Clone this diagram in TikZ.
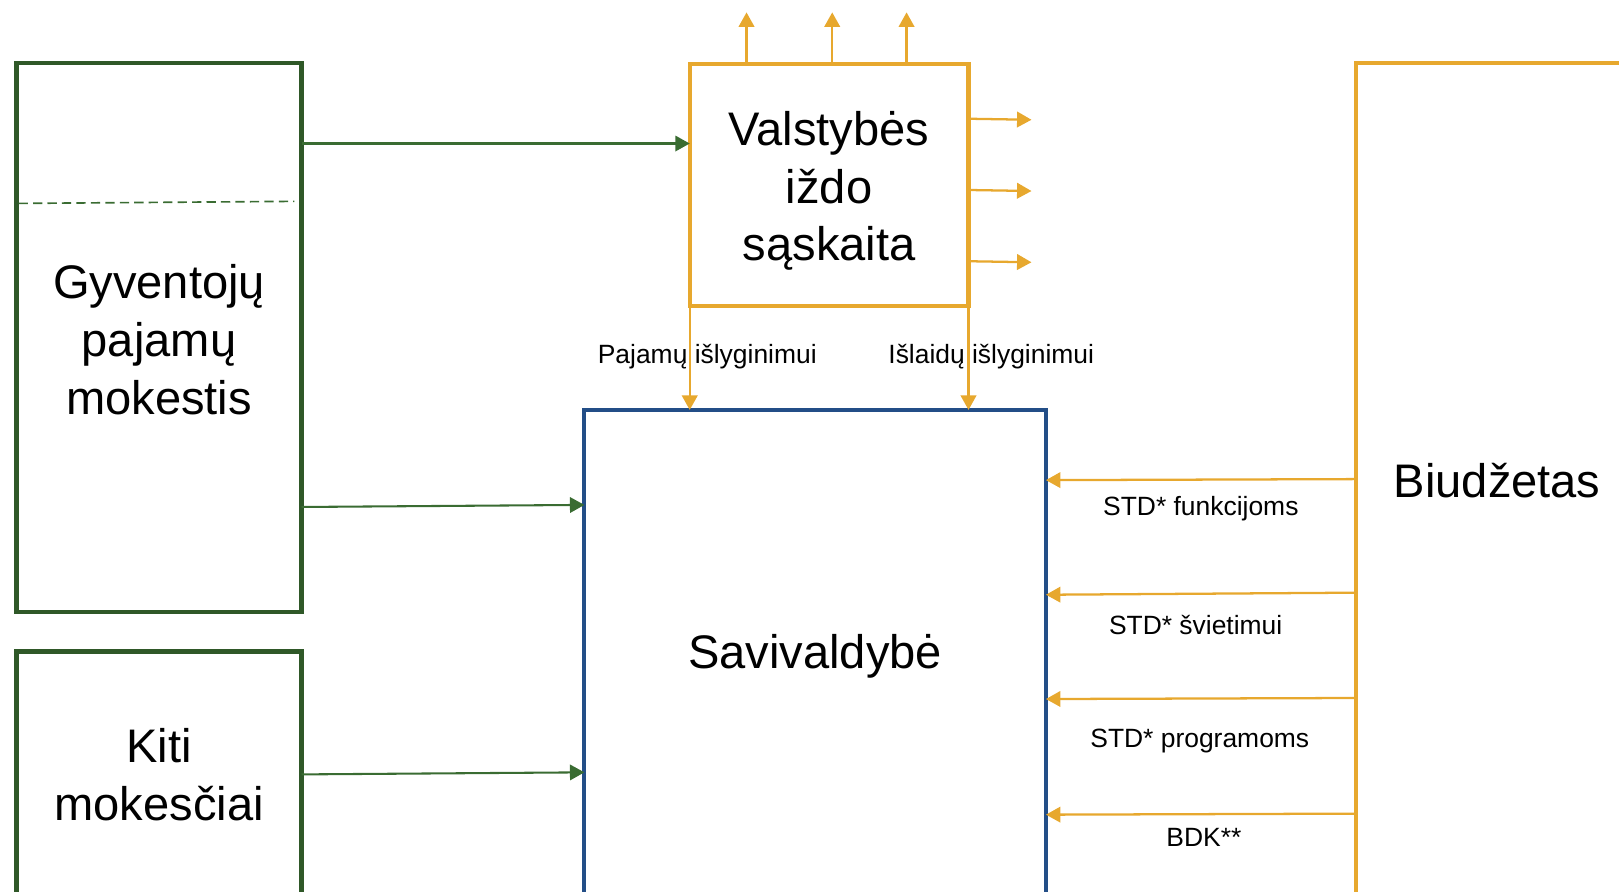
\documentclass[tikz,border=0pt]{standalone}
\usepackage{fontspec}
\setmainfont{Liberation Sans}
\usetikzlibrary{arrows.meta}
\definecolor{gbox}{RGB}{47,88,40}
\definecolor{garr}{RGB}{58,108,50}
\definecolor{orng}{RGB}{231,168,46}
\definecolor{blu}{RGB}{35,78,135}
\begin{document}
\begin{tikzpicture}[x=0.5pt,y=-0.5pt,
  bigtxt/.style={font=\fontsize{22.8}{28}\selectfont, align=center},
  smalltxt/.style={font=\fontsize{12.8}{15}\selectfont, inner sep=0pt},
  box/.style={draw, line width=2pt, inner sep=0pt, outer sep=0pt},
  garrow/.style={draw=garr, line width=1pt, -{Triangle[length=7pt,width=7.5pt]}},
  oarrow/.style={draw=orng, line width=1.1pt, -{Triangle[length=7pt,width=7.5pt]}},
]
\useasboundingbox (0,0) rectangle (1568,863);
\clip (0,0) rectangle (1568,863);

% boxes
\node[box, draw=gbox, minimum width=138pt, minimum height=266pt,
  label={[bigtxt,yshift=-1pt]center:Gyventojų\\pajamų\\mokestis}] (gyv) at (154,327) {};
\node[box, draw=gbox, bigtxt, minimum width=138pt, minimum height=119.5pt] (kiti) at (154,750.5) {Kiti\\mokesčiai};
\node[box, draw=orng, minimum width=135pt, minimum height=117pt,
  label={[bigtxt,yshift=-3pt]center:Valstybės\\iždo\\sąskaita}] (val) at (803,179) {};
\node[box, draw=blu, minimum width=223.5pt, minimum height=235pt,
  label={[bigtxt,yshift=-2pt]center:Savivaldybė}] (sav) at (789.5,632) {};
\node[box, draw=orng, bigtxt, minimum width=137pt, minimum height=404pt] (biud) at (1450,465) {Biudžetas};

% dashed divider
\coordinate (dA) at (gyv.west |- 0,197);
\coordinate (dB) at (gyv.east |- 0,195);
\draw[garr, line width=0.8pt, dash pattern=on 4.5pt off 2.5pt] ([xshift=1pt]dA) -- ([xshift=-3.5pt]dB);

% green arrows
\draw[garrow] (gyv.east |- 0,139) -- (val.west |- 0,139);
\draw[garrow] (gyv.east |- 0,491) -- (sav.west |- 0,489);
\draw[garrow] (kiti.east |- 0,750) -- (sav.west |- 0,748);

% treasury outputs
\draw[oarrow] (val.north -| 723,0) -- ++(0,-50);
\draw[oarrow] (val.north -| 806,0) -- ++(0,-50);
\draw[oarrow] (val.north -| 878,0) -- ++(0,-50);
\draw[oarrow] (val.east |- 0,115) -- ++(61,1);
\draw[oarrow] (val.east |- 0,184) -- ++(61,1);
\draw[oarrow] (val.east |- 0,253) -- ++(61,1);

% equalisation arrows
\draw[oarrow] (val.south west) -- (sav.north -| val.south west);
\draw[oarrow] (val.south east) -- (sav.north -| val.south east);
\node[smalltxt] (lpaj) at (685,345) {Pajamų išlyginimui};
\node[smalltxt] (lisl) at (960,345) {Išlaidų išlyginimui};

% budget transfers
\draw[oarrow] (biud.west |- 0,464) -- (sav.east |- 0,465);
\draw[oarrow] (biud.west |- 0,574) -- (sav.east |- 0,576);
\draw[oarrow] (biud.west |- 0,676) -- (sav.east |- 0,677);
\draw[oarrow] (biud.west |- 0,788) -- (sav.east |- 0,789);
\node[smalltxt] (lfun) at (1163,493) {STD* funkcijoms};
\node[smalltxt] (lsvi) at (1158,605) {STD* švietimui};
\node[smalltxt] (lpro) at (1162,718) {STD* programoms};
\node[smalltxt] (lbdk) at (1166,811) {BDK**};
\end{tikzpicture}
\end{document}
